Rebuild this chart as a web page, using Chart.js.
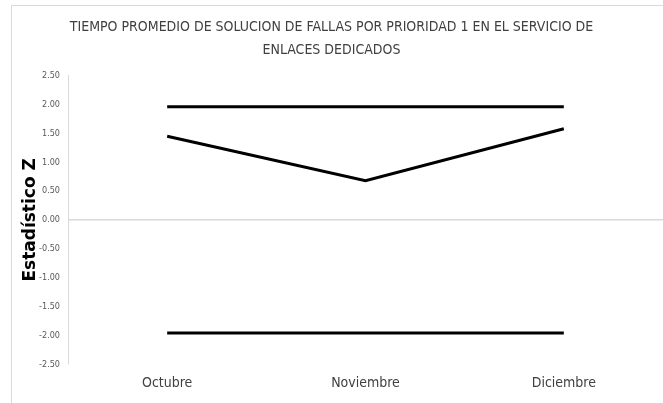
<!DOCTYPE html>
<html>
<head>
<meta charset="utf-8">
<script src="https://cdn.jsdelivr.net/npm/chart.js@4"></script>
<style>
  html, body { margin: 0; padding: 0; background: #fff; }
  #wrap { position: relative; width: 663px; height: 403px; overflow: hidden; }
  #frame { position: absolute; left: 11px; top: 5px; width: 700px; height: 450px; border: 1px solid #d9d9d9; }
  #chart { position: absolute; left: 0; top: 0; }
</style>
</head>
<body>
<div id="wrap">
  <div id="frame"></div>
  <canvas id="chart" width="663" height="403"></canvas>
</div>
<script>
const meses = ['Octubre', 'Noviembre', 'Diciembre'];
const limiteSuperior = [1.96, 1.96, 1.96];
const estadisticoZ  = [1.45, 0.68, 1.58];
const limiteInferior = [-1.96, -1.96, -1.96];

const FONT = "'Liberation Sans Narrow', 'DejaVu Sans Condensed', 'Liberation Sans', sans-serif";

function serie(label, data) {
  return {
    label: label,
    data: data,
    borderColor: '#000000',
    backgroundColor: '#000000',
    borderWidth: 3,
    pointRadius: 0,
    tension: 0,
    fill: false,
  };
}

new Chart(document.getElementById('chart'), {
  type: 'line',
  data: {
    labels: meses,
    datasets: [
      serie('Límite superior', limiteSuperior),
      serie('Estadístico Z', estadisticoZ),
      serie('Límite inferior', limiteInferior),
    ],
  },
  options: {
    responsive: false,
    animation: false,
    layout: { padding: { left: 0, right: 0, top: 0, bottom: 8 } },
    plugins: {
      legend: { display: false },
      tooltip: { enabled: false },
      title: {
        display: true,
        text: ['TIEMPO PROMEDIO DE SOLUCION DE FALLAS POR PRIORIDAD 1 EN EL SERVICIO DE', 'ENLACES DEDICADOS'],
        color: '#404040',
        font: { family: FONT, size: 14, weight: 'normal', lineHeight: 1.7 },
        padding: { top: 15, bottom: 13 },
      },
    },
    scales: {
      x: {
        offset: true,
        grid: { display: false },
        border: { display: false },
        ticks: { color: '#404040', padding: 3, font: { family: FONT, size: 14 } },
      },
      y: {
        min: -2.5,
        max: 2.5,
        afterFit: s => { s.width = 68; },
        ticks: {
          stepSize: 0.5,
          color: '#595959',
          padding: 8,
          font: { family: FONT, size: 9 },
          callback: v => Number(v).toFixed(2),
        },
        grid: {
          drawTicks: false,
          color: ctx => (ctx.tick && ctx.tick.value === 0 ? '#d9d9d9' : 'rgba(0,0,0,0)'),
          lineWidth: 1.5,
        },
        border: { color: '#d9d9d9' },
        title: {
          display: true,
          text: 'Estadístico Z',
          color: '#000000',
          font: { family: "'DejaVu Sans', sans-serif", size: 17, weight: 'bold' },
          padding: { top: 20, bottom: 0 },
        },
      },
    },
  },
});
</script>
</body>
</html>
